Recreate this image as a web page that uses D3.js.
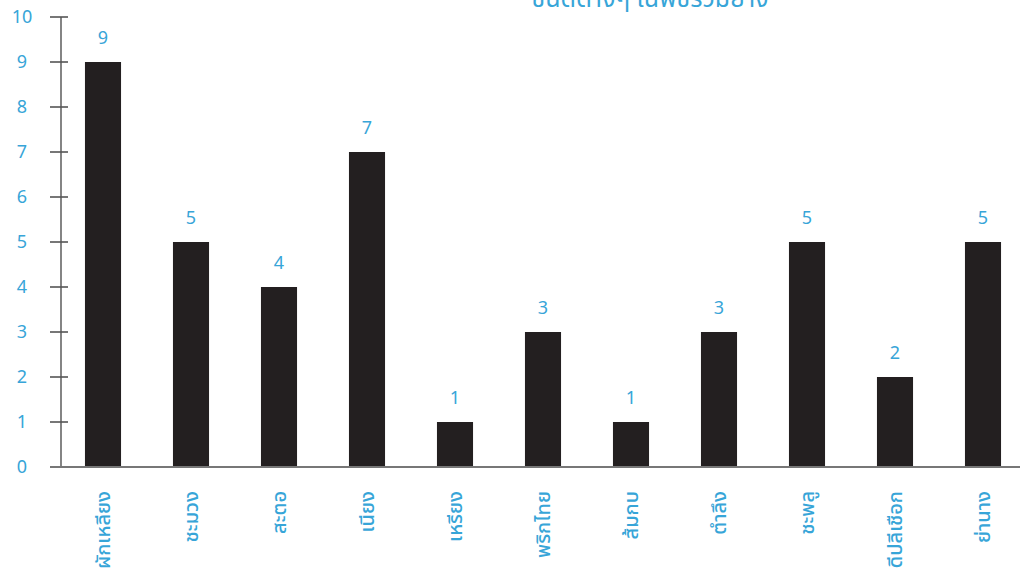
<!DOCTYPE html>
<html>
<head>
<meta charset="utf-8">
<script src="https://cdn.jsdelivr.net/npm/d3@7"></script>
<style>
  html, body { margin: 0; padding: 0; background: #fff; }
  svg { display: block; }
  text { font-family: "Noto Sans Thai", "Noto Sans", "DejaVu Sans", sans-serif; }
</style>
</head>
<body>
<svg id="chart" width="1020" height="575"></svg>
<script>
// Number of species recorded per plant
const plants = ["ผักเหลียง", "ชะมวง", "สะตอ", "เนียง", "เหรียง", "พริกไทย", "ส้มกบ", "ตำลึง", "ชะพลู", "ดีปลีเชือก", "ย่านาง"];
const counts = [9, 5, 4, 7, 1, 3, 1, 3, 5, 2, 5];
const yTicks = [0, 1, 2, 3, 4, 5, 6, 7, 8, 9, 10];
const titleText = "ชนิดต่างๆ ในพืชร่วมยาง";

const blue = "#37a5d8";
const svg = d3.select("#chart");

const x = d3.scaleBand()
  .domain(plants)
  .range([59, 1027])
  .paddingInner(0.59)
  .paddingOuter(0.295);

const y = d3.scaleLinear().domain([0, 10]).range([467, 17]);

// Title line (runs past the top edge)
svg.append("text")
  .attr("x", 650).attr("y", 7)
  .attr("text-anchor", "middle")
  .attr("fill", blue)
  .attr("font-size", 25)
  .text(titleText);

// Bars
svg.append("g").selectAll("rect")
  .data(plants)
  .join("rect")
  .attr("x", d => x(d))
  .attr("width", x.bandwidth())
  .attr("y", (d, i) => y(counts[i]))
  .attr("height", (d, i) => y(0) - y(counts[i]))
  .attr("fill", "#231f20");

// Value labels
svg.append("g").selectAll("text")
  .data(plants)
  .join("text")
  .attr("x", d => x(d) + x.bandwidth() / 2)
  .attr("y", (d, i) => y(counts[i]) - 18)
  .attr("text-anchor", "middle")
  .attr("fill", blue)
  .attr("font-size", 18)
  .text((d, i) => counts[i]);

// Y axis with ticks crossing the line
const yAxis = svg.append("g").attr("transform", "translate(61,0)");
yAxis.append("line")
  .attr("y1", y(10)).attr("y2", y(0))
  .attr("stroke", "#666").attr("stroke-width", 1.6);
yAxis.selectAll(".tick")
  .data(yTicks.filter(t => t > 0))
  .join("line")
  .attr("x1", -11).attr("x2", 7)
  .attr("y1", d => y(d)).attr("y2", d => y(d))
  .attr("stroke", "#555").attr("stroke-width", 1.6);
yAxis.selectAll(".lbl")
  .data(yTicks)
  .join("text")
  .attr("x", -39)
  .attr("y", d => y(d))
  .attr("dy", "0.36em")
  .attr("text-anchor", "middle")
  .attr("fill", blue)
  .attr("font-size", 18)
  .text(d => d);

// X baseline
svg.append("line")
  .attr("x1", 50).attr("x2", 1020)
  .attr("y1", y(0)).attr("y2", y(0))
  .attr("stroke", "#777").attr("stroke-width", 2);

// Rotated category labels
svg.append("g").selectAll("text")
  .data(plants)
  .join("text")
  .attr("transform", d => `translate(${x(d) + x.bandwidth() / 2},491) rotate(-90)`)
  .attr("dy", "0.35em")
  .attr("text-anchor", "end")
  .attr("fill", blue)
  .attr("font-size", 20)
  .attr("font-weight", 500)
  .text(d => d);
</script>
</body>
</html>
